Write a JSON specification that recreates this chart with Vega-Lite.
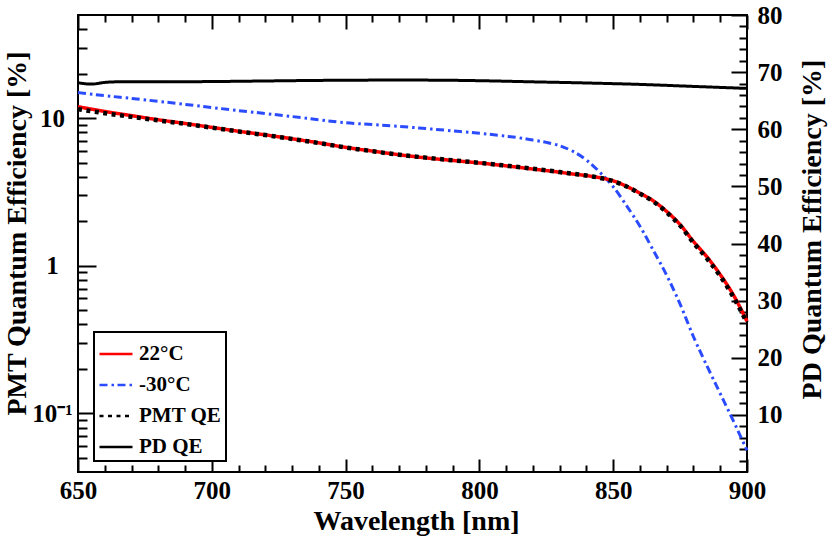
{
  "$schema": "https://vega.github.io/schema/vega-lite/v6.json",
  "width": 669,
  "height": 457,
  "autosize": {"type": "none"},
  "padding": {"left": 78, "top": 15, "right": 83, "bottom": 67},
  "background": "white",
  "config": {
    "view": {"stroke": "black", "strokeWidth": 2},
    "font": "Liberation Serif",
    "axis": {
      "domain": false,
      "grid": false,
      "labelFont": "Liberation Serif",
      "labelFontWeight": "bold",
      "labelFontSize": 25,
      "labelColor": "black",
      "labelOverlap": false,
      "labelBound": false,
      "labelFlush": false,
      "titleFont": "Liberation Serif",
      "titleFontWeight": "bold",
      "titleFontSize": 28,
      "titleColor": "black",
      "tickColor": "black",
      "tickWidth": 2
    },
    "legend": {
      "labelFont": "Liberation Serif",
      "labelFontWeight": "bold",
      "labelFontSize": 21,
      "labelColor": "black",
      "symbolType": "stroke",
      "symbolSize": 1089,
      "symbolStrokeWidth": 2.5,
      "rowPadding": 3,
      "padding": 4,
      "labelOffset": 5,
      "strokeColor": "black",
      "strokeWidth": 2,
      "fillColor": "white"
    }
  },
  "datasets": {
    "pmt": [
      {"series": "-30°C", "wavelength": 650, "qe": 14.9},
      {"series": "-30°C", "wavelength": 660, "qe": 14.2},
      {"series": "-30°C", "wavelength": 670, "qe": 13.6},
      {"series": "-30°C", "wavelength": 680, "qe": 13.0},
      {"series": "-30°C", "wavelength": 690, "qe": 12.4},
      {"series": "-30°C", "wavelength": 700, "qe": 11.8},
      {"series": "-30°C", "wavelength": 710, "qe": 11.25},
      {"series": "-30°C", "wavelength": 720, "qe": 10.75},
      {"series": "-30°C", "wavelength": 730, "qe": 10.25},
      {"series": "-30°C", "wavelength": 740, "qe": 9.75},
      {"series": "-30°C", "wavelength": 750, "qe": 9.3},
      {"series": "-30°C", "wavelength": 760, "qe": 9.05},
      {"series": "-30°C", "wavelength": 770, "qe": 8.8},
      {"series": "-30°C", "wavelength": 780, "qe": 8.5},
      {"series": "-30°C", "wavelength": 790, "qe": 8.2},
      {"series": "-30°C", "wavelength": 800, "qe": 7.9},
      {"series": "-30°C", "wavelength": 810, "qe": 7.55},
      {"series": "-30°C", "wavelength": 815, "qe": 7.35},
      {"series": "-30°C", "wavelength": 820, "qe": 7.1},
      {"series": "-30°C", "wavelength": 825, "qe": 6.85},
      {"series": "-30°C", "wavelength": 830, "qe": 6.5},
      {"series": "-30°C", "wavelength": 835, "qe": 5.95},
      {"series": "-30°C", "wavelength": 840, "qe": 5.2},
      {"series": "-30°C", "wavelength": 845, "qe": 4.3},
      {"series": "-30°C", "wavelength": 850, "qe": 3.43},
      {"series": "-30°C", "wavelength": 855, "qe": 2.55},
      {"series": "-30°C", "wavelength": 860, "qe": 1.85},
      {"series": "-30°C", "wavelength": 865, "qe": 1.27},
      {"series": "-30°C", "wavelength": 870, "qe": 0.86},
      {"series": "-30°C", "wavelength": 875, "qe": 0.55},
      {"series": "-30°C", "wavelength": 880, "qe": 0.33},
      {"series": "-30°C", "wavelength": 885, "qe": 0.21},
      {"series": "-30°C", "wavelength": 890, "qe": 0.136},
      {"series": "-30°C", "wavelength": 895, "qe": 0.088},
      {"series": "-30°C", "wavelength": 900, "qe": 0.056},
      {"series": "22°C", "wavelength": 650, "qe": 11.95},
      {"series": "22°C", "wavelength": 660, "qe": 11.1},
      {"series": "22°C", "wavelength": 670, "qe": 10.4},
      {"series": "22°C", "wavelength": 680, "qe": 9.75},
      {"series": "22°C", "wavelength": 690, "qe": 9.2},
      {"series": "22°C", "wavelength": 700, "qe": 8.66},
      {"series": "22°C", "wavelength": 710, "qe": 8.15},
      {"series": "22°C", "wavelength": 720, "qe": 7.7},
      {"series": "22°C", "wavelength": 730, "qe": 7.25},
      {"series": "22°C", "wavelength": 740, "qe": 6.8},
      {"series": "22°C", "wavelength": 750, "qe": 6.34},
      {"series": "22°C", "wavelength": 760, "qe": 5.98},
      {"series": "22°C", "wavelength": 770, "qe": 5.65},
      {"series": "22°C", "wavelength": 780, "qe": 5.38},
      {"series": "22°C", "wavelength": 790, "qe": 5.17},
      {"series": "22°C", "wavelength": 800, "qe": 4.97},
      {"series": "22°C", "wavelength": 810, "qe": 4.75},
      {"series": "22°C", "wavelength": 820, "qe": 4.52},
      {"series": "22°C", "wavelength": 830, "qe": 4.3},
      {"series": "22°C", "wavelength": 835, "qe": 4.18},
      {"series": "22°C", "wavelength": 840, "qe": 4.08},
      {"series": "22°C", "wavelength": 845, "qe": 3.95},
      {"series": "22°C", "wavelength": 850, "qe": 3.76},
      {"series": "22°C", "wavelength": 855, "qe": 3.45},
      {"series": "22°C", "wavelength": 860, "qe": 3.1},
      {"series": "22°C", "wavelength": 865, "qe": 2.75},
      {"series": "22°C", "wavelength": 870, "qe": 2.33},
      {"series": "22°C", "wavelength": 875, "qe": 1.9},
      {"series": "22°C", "wavelength": 880, "qe": 1.46},
      {"series": "22°C", "wavelength": 885, "qe": 1.15},
      {"series": "22°C", "wavelength": 890, "qe": 0.87},
      {"series": "22°C", "wavelength": 895, "qe": 0.63},
      {"series": "22°C", "wavelength": 900, "qe": 0.42},
      {"series": "PMT QE", "wavelength": 650, "qe": 11.5},
      {"series": "PMT QE", "wavelength": 660, "qe": 10.8},
      {"series": "PMT QE", "wavelength": 670, "qe": 10.2},
      {"series": "PMT QE", "wavelength": 680, "qe": 9.65},
      {"series": "PMT QE", "wavelength": 690, "qe": 9.15},
      {"series": "PMT QE", "wavelength": 700, "qe": 8.62},
      {"series": "PMT QE", "wavelength": 710, "qe": 8.12},
      {"series": "PMT QE", "wavelength": 720, "qe": 7.68},
      {"series": "PMT QE", "wavelength": 730, "qe": 7.23},
      {"series": "PMT QE", "wavelength": 740, "qe": 6.78},
      {"series": "PMT QE", "wavelength": 750, "qe": 6.33},
      {"series": "PMT QE", "wavelength": 760, "qe": 5.97},
      {"series": "PMT QE", "wavelength": 770, "qe": 5.65},
      {"series": "PMT QE", "wavelength": 780, "qe": 5.4},
      {"series": "PMT QE", "wavelength": 790, "qe": 5.18},
      {"series": "PMT QE", "wavelength": 800, "qe": 4.98},
      {"series": "PMT QE", "wavelength": 810, "qe": 4.76},
      {"series": "PMT QE", "wavelength": 820, "qe": 4.54},
      {"series": "PMT QE", "wavelength": 830, "qe": 4.31},
      {"series": "PMT QE", "wavelength": 840, "qe": 4.08},
      {"series": "PMT QE", "wavelength": 845, "qe": 3.94},
      {"series": "PMT QE", "wavelength": 850, "qe": 3.74},
      {"series": "PMT QE", "wavelength": 855, "qe": 3.44},
      {"series": "PMT QE", "wavelength": 860, "qe": 3.08},
      {"series": "PMT QE", "wavelength": 865, "qe": 2.72},
      {"series": "PMT QE", "wavelength": 870, "qe": 2.3},
      {"series": "PMT QE", "wavelength": 875, "qe": 1.87},
      {"series": "PMT QE", "wavelength": 880, "qe": 1.43},
      {"series": "PMT QE", "wavelength": 885, "qe": 1.12},
      {"series": "PMT QE", "wavelength": 890, "qe": 0.85},
      {"series": "PMT QE", "wavelength": 895, "qe": 0.61},
      {"series": "PMT QE", "wavelength": 900, "qe": 0.41}
    ],
    "pd": [
      {"series": "PD QE", "wavelength": 650, "qe": 68.15},
      {"series": "PD QE", "wavelength": 655, "qe": 67.9},
      {"series": "PD QE", "wavelength": 660, "qe": 68.2},
      {"series": "PD QE", "wavelength": 665, "qe": 68.3},
      {"series": "PD QE", "wavelength": 680, "qe": 68.3},
      {"series": "PD QE", "wavelength": 700, "qe": 68.35},
      {"series": "PD QE", "wavelength": 720, "qe": 68.45},
      {"series": "PD QE", "wavelength": 740, "qe": 68.55},
      {"series": "PD QE", "wavelength": 760, "qe": 68.6},
      {"series": "PD QE", "wavelength": 780, "qe": 68.6},
      {"series": "PD QE", "wavelength": 800, "qe": 68.5},
      {"series": "PD QE", "wavelength": 820, "qe": 68.3},
      {"series": "PD QE", "wavelength": 840, "qe": 68.1},
      {"series": "PD QE", "wavelength": 860, "qe": 67.85},
      {"series": "PD QE", "wavelength": 880, "qe": 67.5},
      {"series": "PD QE", "wavelength": 900, "qe": 67.15}
    ]
  },
  "encoding": {
    "color": {
      "field": "series",
      "type": "nominal",
      "scale": {
        "domain": ["22°C", "-30°C", "PMT QE", "PD QE"],
        "range": ["#ff0000", "#2b4bff", "black", "black"]
      },
      "legend": {"title": null, "orient": "none", "legendX": 16, "legendY": 317}
    },
    "strokeDash": {
      "field": "series",
      "type": "nominal",
      "scale": {
        "domain": ["22°C", "-30°C", "PMT QE", "PD QE"],
        "range": [[1, 0], [8, 4, 2.5, 3.5], [4, 4.5], [1, 0]]
      },
      "legend": {"title": null, "orient": "none", "legendX": 16, "legendY": 317}
    }
  },
  "layer": [
    {
      "data": {"name": "pd"},
      "mark": {"type": "line", "strokeWidth": 3, "interpolate": "monotone"},
      "encoding": {
        "x": {
          "field": "wavelength",
          "type": "quantitative",
          "scale": {"domain": [650, 900], "nice": false, "zero": false},
          "axis": {
            "orient": "top",
            "title": null,
            "labels": false,
            "values": [650, 660, 670, 680, 690, 700, 710, 720, 730, 740, 750, 760, 770, 780, 790, 800, 810, 820, 830, 840, 850, 860, 870, 880, 890, 900],
            "tickSize": {"condition": {"test": "datum.value % 50 === 0", "value": -14}, "value": -7}
          }
        },
        "y": {
          "field": "qe",
          "type": "quantitative",
          "scale": {"domain": [0, 80], "nice": false, "zero": false},
          "axis": {
            "orient": "right",
            "values": [2, 4, 6, 8, 10, 12, 14, 16, 18, 20, 22, 24, 26, 28, 30, 32, 34, 36, 38, 40, 42, 44, 46, 48, 50, 52, 54, 56, 58, 60, 62, 64, 66, 68, 70, 72, 74, 76, 78, 80],
            "labelExpr": "datum.value % 10 === 0 ? datum.label : ''",
            "tickSize": {"condition": {"test": "datum.value % 10 === 0", "value": -16}, "value": -8},
            "labelPadding": 26,
            "labelAlign": "left",
            "labelBaseline": "middle",
            "title": "PD Quantum Efficiency [%]",
            "titleAngle": 270,
            "titleAlign": "center",
            "titleBaseline": "alphabetic",
            "titleX": 73,
            "titleY": 214
          }
        }
      }
    },
    {
      "data": {"name": "pmt"},
      "encoding": {
        "x": {
          "field": "wavelength",
          "type": "quantitative",
          "scale": {"domain": [650, 900], "nice": false, "zero": false},
          "axis": {
            "orient": "bottom",
            "values": [650, 660, 670, 680, 690, 700, 710, 720, 730, 740, 750, 760, 770, 780, 790, 800, 810, 820, 830, 840, 850, 860, 870, 880, 890, 900],
            "labelExpr": "datum.value % 50 === 0 ? datum.label : ''",
            "tickSize": {"condition": {"test": "datum.value % 50 === 0", "value": -13}, "value": -7},
            "labelPadding": 39,
            "labelBaseline": "alphabetic",
            "title": "Wavelength [nm]",
            "titleBaseline": "alphabetic",
            "titleX": 338,
            "titleY": 57
          }
        },
        "y": {
          "field": "qe",
          "type": "quantitative",
          "scale": {"type": "log", "domain": [0.04, 50], "nice": false},
          "axis": {
            "orient": "left",
            "values": [0.05, 0.06, 0.07, 0.08, 0.09, 0.1, 0.2, 0.3, 0.4, 0.5, 0.6, 0.7, 0.8, 0.9, 1, 2, 3, 4, 5, 6, 7, 8, 9, 10, 20, 30, 40],
            "labelExpr": "datum.value === 0.1 ? '10⁻¹' : (datum.value === 1 ? '1' : (datum.value === 10 ? '10' : ''))",
            "tickSize": {"condition": {"test": "datum.value === 0.1 || datum.value === 1 || datum.value === 10", "value": -18}, "value": -9},
            "labelPadding": 44,
            "labelAlign": "center",
            "labelBaseline": "middle",
            "title": "PMT Quantum Efficiency [%]",
            "titleAngle": 270,
            "titleAlign": "center",
            "titleBaseline": "alphabetic",
            "titleX": -53,
            "titleY": 218
          }
        }
      },
      "layer": [
        {
          "transform": [{"filter": "datum.series === '-30°C'"}],
          "mark": {"type": "line", "strokeWidth": 3, "interpolate": "monotone"}
        },
        {
          "transform": [{"filter": "datum.series === '22°C'"}],
          "mark": {"type": "line", "strokeWidth": 3.5, "interpolate": "monotone"}
        },
        {
          "transform": [{"filter": "datum.series === 'PMT QE'"}],
          "mark": {"type": "line", "strokeWidth": 4.5, "interpolate": "monotone"}
        }
      ]
    }
  ],
  "resolve": {
    "scale": {"y": "independent"},
    "axis": {"x": "independent", "y": "independent"}
  }
}
